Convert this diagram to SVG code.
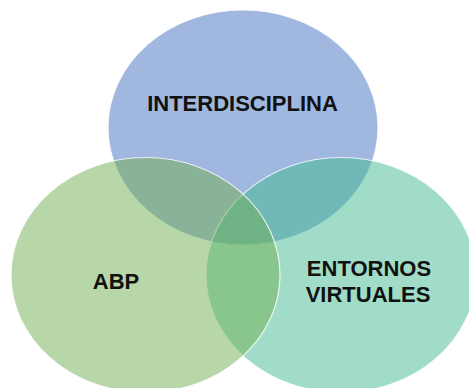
<svg xmlns="http://www.w3.org/2000/svg" width="469" height="388" viewBox="0 0 469 388">
<style>
.c{fill-opacity:0.5;stroke:#ffffff;stroke-width:1.2;stroke-opacity:0.8}
.t{font-family:"Liberation Sans",Arial,sans-serif;font-weight:bold;font-size:22px;fill:#111111;text-anchor:middle}
</style>
<rect width="469" height="388" fill="#ffffff"/>
<g id="interdisciplina">
<ellipse class="c" cx="243" cy="127.5" rx="135" ry="117.5" fill="#4270C2"/>
<text class="t" x="242.5" y="111">INTERDISCIPLINA</text>
</g>
<g id="entornos-virtuales">
<ellipse class="c" cx="341" cy="275" rx="135" ry="117.5" fill="#41B991"/>
<text class="t" x="369" y="276">ENTORNOS</text>
<text class="t" x="368" y="302">VIRTUALES</text>
</g>
<g id="abp">
<ellipse class="c" cx="145.5" cy="275" rx="134.5" ry="117.5" fill="#6FAF51"/>
<text class="t" x="116" y="289">ABP</text>
</g>
<g id="connectors"></g>
</svg>
